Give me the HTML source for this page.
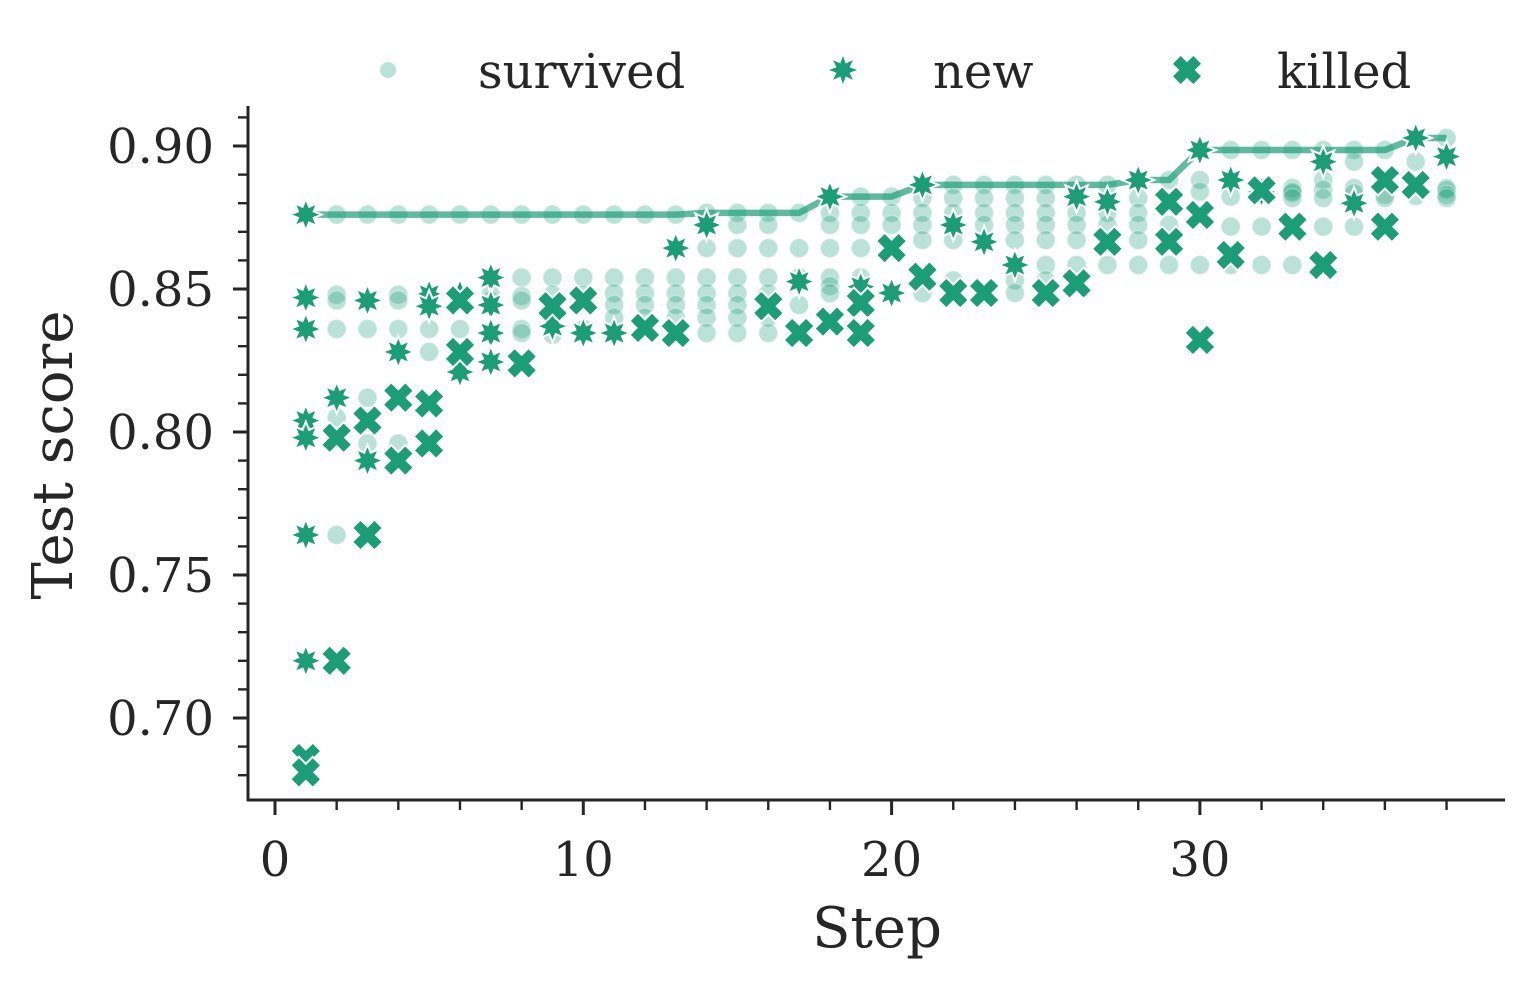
<!DOCTYPE html>
<html><head><meta charset="utf-8"><style>
html,body{margin:0;padding:0;background:#fff;}
svg{display:block;font-family:"DejaVu Serif","Liberation Serif",serif;}
</style></head><body>
<svg id="chart" width="1534" height="988" viewBox="0 0 1534 988">
<g id="axes"></g>
<g id="marks"></g>
<g id="legend"></g>
</svg>
<script>
const survived = [
[2,0.876],[2,0.848],[2,0.846],[2,0.836],[2,0.805],[2,0.764],
[3,0.876],[3,0.846],[3,0.836],[3,0.812],[3,0.796],
[4,0.876],[4,0.848],[4,0.846],[4,0.836],[4,0.796],
[5,0.876],[5,0.846],[5,0.836],[5,0.828],
[6,0.876],[6,0.848],[6,0.836],
[7,0.876],[7,0.848],[7,0.846],
[8,0.876],[8,0.854],[8,0.8475],[8,0.846],[8,0.836],[8,0.8346],
[9,0.876],[9,0.854],[9,0.848],[9,0.834],
[10,0.876],[10,0.854],[10,0.848],[10,0.836],
[11,0.876],[11,0.854],[11,0.8485],[11,0.8444],[11,0.840],
[12,0.876],[12,0.854],[12,0.8485],[12,0.8444],[12,0.840],
[13,0.876],[13,0.854],[13,0.8485],[13,0.8444],[13,0.840],
[14,0.8766],[14,0.8643],[14,0.854],[14,0.8485],[14,0.8444],[14,0.840],[14,0.8346],
[15,0.8766],[15,0.8724],[15,0.8643],[15,0.854],[15,0.8485],[15,0.8444],[15,0.840],[15,0.8346],
[16,0.8766],[16,0.8724],[16,0.8643],[16,0.854],[16,0.8485],[16,0.840],[16,0.8346],
[17,0.8766],[17,0.8643],[17,0.854],[17,0.8444],
[18,0.8766],[18,0.8724],[18,0.8643],[18,0.854],[18,0.851],[18,0.8485],
[19,0.8823],[19,0.8766],[19,0.8724],[19,0.8643],[19,0.854],
[20,0.8823],[20,0.8766],[20,0.8724],
[21,0.8818],[21,0.8766],[21,0.8724],[21,0.8671],[21,0.8486],
[22,0.8864],[22,0.8818],[22,0.8766],[22,0.8671],[22,0.853],
[23,0.8864],[23,0.8818],[23,0.8766],[23,0.8724],
[24,0.8864],[24,0.8818],[24,0.8766],[24,0.8724],[24,0.8671],[24,0.853],[24,0.8486],
[25,0.8864],[25,0.8818],[25,0.8766],[25,0.8724],[25,0.8671],[25,0.8584],[25,0.853],
[26,0.8864],[26,0.8766],[26,0.8724],[26,0.8671],[26,0.8584],
[27,0.8864],[27,0.8766],[27,0.8724],[27,0.8671],[27,0.8584],
[28,0.8818],[28,0.8766],[28,0.8724],[28,0.8671],[28,0.8584],
[29,0.8881],[29,0.8724],[29,0.8584],
[30,0.8881],[30,0.884],[30,0.8584],
[31,0.8986],[31,0.8823],[31,0.8718],[31,0.8584],
[32,0.8986],[32,0.8853],[32,0.8718],[32,0.8584],
[33,0.8986],[33,0.8853],[33,0.8835],[33,0.884],[33,0.8818],[33,0.8584],
[34,0.8986],[34,0.8881],[34,0.8847],[34,0.8818],[34,0.8718],
[35,0.8986],[35,0.8945],[35,0.8853],[35,0.8835],[35,0.8718],
[36,0.8986],[36,0.8829],[36,0.8818],
[37,0.8945],[37,0.8825],
[38,0.9028],[38,0.8853],[38,0.8847],[38,0.8829],[38,0.8818]
];
const newPts = [
[1,0.876],[1,0.847],[1,0.836],[1,0.804],[1,0.798],[1,0.764],[1,0.720],
[2,0.812],[3,0.846],[3,0.790],[4,0.828],[5,0.848],[5,0.844],[6,0.848],[6,0.821],
[7,0.854],[7,0.8444],[7,0.8346],[7,0.8245],[9,0.837],[10,0.8346],[11,0.8346],
[13,0.8643],[14,0.8724],[17,0.8526],[18,0.8823],[19,0.8508],[20,0.8486],
[21,0.8864],[22,0.8724],[23,0.8665],[24,0.8584],[26,0.8823],[27,0.8805],[28,0.8881],
[30,0.8986],[31,0.8881],[32,0.884],[34,0.8945],[35,0.880],[37,0.9028],[38,0.8963]
];
const killed = [
[1,0.686],[1,0.681],[2,0.798],[2,0.720],[3,0.804],[3,0.764],[4,0.812],[4,0.790],
[5,0.810],[5,0.796],[6,0.846],[6,0.828],[8,0.824],[9,0.844],[10,0.846],
[12,0.8364],[13,0.8346],[16,0.844],[17,0.8346],[18,0.8386],[19,0.8451],[19,0.8346],
[20,0.8643],[21,0.8543],[22,0.8486],[23,0.8486],[25,0.8486],[26,0.852],[27,0.8665],
[29,0.8805],[29,0.8665],[30,0.8759],[30,0.8322],[31,0.8619],[32,0.8845],[33,0.8718],
[34,0.8584],[36,0.8881],[36,0.8718],[37,0.8864]
];
const xTicks = [0,10,20,30];
const xMinor = [2,4,6,8,12,14,16,18,22,24,26,28,32,34,36,38];
const yTicks = [0.70,0.75,0.80,0.85,0.90];
const yTickLabels = ["0.70","0.75","0.80","0.85","0.90"];
const yMinor = [0.68,0.69,0.71,0.72,0.73,0.74,0.76,0.77,0.78,0.79,0.81,0.82,0.83,0.84,0.86,0.87,0.88,0.89,0.91];

const NS="http://www.w3.org/2000/svg";
const C="#1b9e77";
const X = s => 275 + s*30.83;
const Y = v => 146 + (0.9 - v)*2860;
function mk(tag, attrs, parent){const e=document.createElementNS(NS,tag);for(const k in attrs)e.setAttribute(k,attrs[k]);parent.appendChild(e);return e;}
const axes=document.getElementById('axes'), marks=document.getElementById('marks'), legend=document.getElementById('legend');

function starPath(cx,cy,ro,ri){let d="";for(let i=0;i<16;i++){const a=i*Math.PI/8-Math.PI/2;const r=i%2?ri:ro;d+=(i?"L":"M")+(cx+r*Math.cos(a)).toFixed(1)+","+(cy+r*Math.sin(a)).toFixed(1);}return d+"Z";}
function xPath(cx,cy,s){const u=[[-1,-0.45],[-0.45,-1],[0,-0.55],[0.45,-1],[1,-0.45],[0.55,0],[1,0.45],[0.45,1],[0,0.55],[-0.45,1],[-1,0.45],[-0.55,0]];return u.map((p,i)=>(i?"L":"M")+(cx+p[0]*s).toFixed(1)+","+(cy+p[1]*s).toFixed(1)).join("")+"Z";}

let e;
e=mk('line',{x1:248,y1:106,x2:248,y2:801,stroke:'#262626','stroke-width':3},axes);


e=mk('line',{x1:247,y1:800,x2:1505,y2:800,stroke:'#262626','stroke-width':3},axes);


xTicks.forEach(t=>{
 e=mk('line',{x1:X(t),y1:800,x2:X(t),y2:815,stroke:'#262626','stroke-width':3},axes);
 
 
 e=mk('text',{x:X(t),y:876,'text-anchor':'middle','font-size':48,fill:'#262626'},axes);e.textContent=t;
 
 
});
xMinor.forEach(t=>{
 e=mk('line',{x1:X(t),y1:800,x2:X(t),y2:810,stroke:'#262626','stroke-width':2.4},axes);
 
 
});
yTicks.forEach((t,i)=>{
 e=mk('line',{x1:233,y1:Y(t),x2:248,y2:Y(t),stroke:'#262626','stroke-width':3},axes);
 
 
 e=mk('text',{x:214,y:Y(t)+17,'text-anchor':'end','font-size':48,fill:'#262626'},axes);e.textContent=yTickLabels[i];
 
 
});
yMinor.forEach(t=>{
 e=mk('line',{x1:238,y1:Y(t),x2:248,y2:Y(t),stroke:'#262626','stroke-width':2.4},axes);
 
 
});
e=mk('text',{x:877,y:947,'text-anchor':'middle','font-size':56,fill:'#262626'},axes);e.textContent='Step';


e=mk('text',{x:0,y:0,'text-anchor':'middle','font-size':56,fill:'#262626',transform:'translate(72,455) rotate(-90)'},axes);e.textContent='Test score';



survived.forEach(p=>{
 e=mk('circle',{cx:X(p[0]),cy:Y(p[1]),r:9.5,fill:C,'fill-opacity':0.3,stroke:'#fff','stroke-opacity':0.3,'stroke-width':1.5},marks);
 
 
});
const best={};
survived.concat(newPts).forEach(p=>{best[p[0]]=Math.max(best[p[0]]||0,p[1]);});
let run=0, pts=[];
for(let s=1;s<=38;s++){if(best[s]!==undefined)run=Math.max(run,best[s]);pts.push(X(s).toFixed(1)+","+Y(run).toFixed(1));}
e=mk('polyline',{points:pts.join(" "),fill:'none',stroke:C,'stroke-opacity':0.7,'stroke-width':6.5,'stroke-linejoin':'round'},marks);


newPts.forEach(p=>{
 e=mk('path',{d:starPath(X(p[0]),Y(p[1]),16,8.5),fill:C,stroke:'#fff','stroke-width':2},marks);
 
 
});
killed.forEach(p=>{
 e=mk('path',{d:xPath(X(p[0]),Y(p[1]),15.5),fill:C,stroke:'#fff','stroke-width':2},marks);
 
 
});
e=mk('circle',{cx:388,cy:70,r:8,fill:C,'fill-opacity':0.3},legend);


e=mk('text',{x:478,y:88,'font-size':48,fill:'#262626'},legend);e.textContent='survived';


e=mk('path',{d:starPath(843,70,14,7),fill:C},legend);


e=mk('text',{x:933,y:88,'font-size':48,fill:'#262626'},legend);e.textContent='new';


e=mk('path',{d:xPath(1187,70,14),fill:C},legend);


e=mk('text',{x:1277,y:88,'font-size':48,fill:'#262626'},legend);e.textContent='killed';


</script>
</body></html>
